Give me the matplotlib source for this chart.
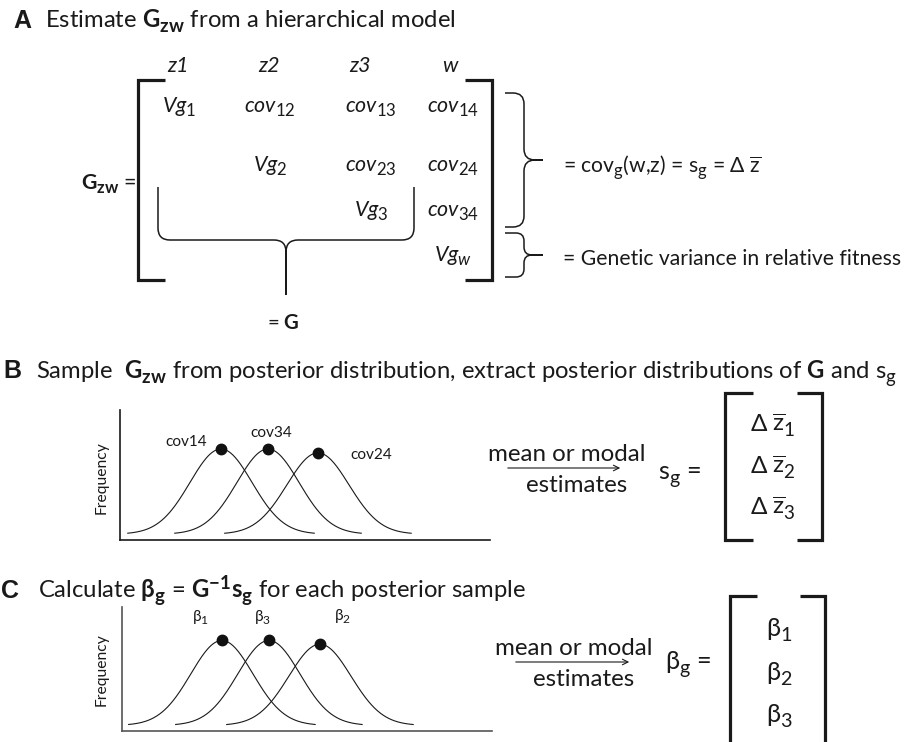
import numpy as np
import matplotlib
matplotlib.use("Agg")
import matplotlib.pyplot as plt
import matplotlib._mathtext as _mt
from matplotlib.path import Path
from matplotlib.patches import PathPatch, FancyArrowPatch

# larger, lower subscripts (closer to the reference typesetting)
_mt.SHRINK_FACTOR = 0.78
_mt.FontConstantsBase.sub1 = 0.42
_mt.FontConstantsBase.sub2 = 0.55

FONT = "Lato"
plt.rcParams["font.family"] = [FONT, "DejaVu Sans"]
plt.rcParams["mathtext.fontset"] = "custom"
plt.rcParams["mathtext.rm"] = FONT
plt.rcParams["mathtext.it"] = FONT + ":italic"
plt.rcParams["mathtext.bf"] = FONT + ":bold"
plt.rcParams["mathtext.fallback"] = "stixsans"

# ---------------- data ----------------
col_headers = ["z1", "z2", "z3", "w"]
g_matrix = [
    [r"$\mathit{Vg}_{\mathit{1}}$", r"$\mathit{cov}_{\mathit{12}}$", r"$\mathit{cov}_{\mathit{13}}$", r"$\mathit{cov}_{\mathit{14}}$"],
    [None, r"$\mathit{Vg}_{\mathit{2}}$", r"$\mathit{cov}_{\mathit{23}}$", r"$\mathit{cov}_{\mathit{24}}$"],
    [None, None, r"$\mathit{Vg}_{\mathit{3}}$", r"$\mathit{cov}_{\mathit{34}}$"],
    [None, None, None, r"$\mathit{Vg}_{\mathit{w}}$"],
]
b_labels = ["cov14", "cov34", "cov24"]
b_means = [2.73, 4.00, 5.35]
b_peaks = [0.70, 0.70, 0.67]
c_labels = [r"β$_{1}$", r"β$_{3}$", r"β$_{2}$"]
c_means = [2.70, 3.97, 5.35]
c_peaks = [0.73, 0.73, 0.70]
curve_sd = 0.84
curve_base = 0.045
sg_entries = [r"Δ $\overline{\mathrm{z}}_{1}$", r"Δ $\overline{\mathrm{z}}_{2}$", r"Δ $\overline{\mathrm{z}}_{3}$"]
beta_entries = [r"β$_{1}$", r"β$_{2}$", r"β$_{3}$"]

# ---------------- figure ----------------
W, H = 907, 742
fig = plt.figure(figsize=(W / 100, H / 100), dpi=100)
ax = fig.add_axes([0, 0, 1, 1])
ax.set_xlim(0, W)
ax.set_ylim(H, 0)
ax.axis("off")
renderer = fig.canvas.get_renderer()
INK = "#1a1a1a"


def fit(t, target):
    w = t.get_window_extent(renderer).width
    t.set_fontsize(t.get_fontsize() * target / w)
    return t.get_fontsize()


def measure(s, target, **kw):
    t = ax.text(0, 0, s, fontsize=12, **kw)
    size = fit(t, target)
    t.remove()
    return size


def txt(x, y, s, size=12, ha="left", va="baseline", width=None, **kw):
    t = ax.text(x, y, s, fontsize=size, ha=ha, va=va, color=INK, **kw)
    if width is not None:
        fit(t, width)
    return t


def poly(pts, lw=2.3, color=INK):
    xs, ys = zip(*pts)
    ax.plot(xs, ys, color=color, lw=lw, solid_joinstyle="miter", solid_capstyle="butt")


def brace(s0, s1, base, e, t, r, orient, lw=1.1):
    sm = (s0 + s1) / 2
    loc = [(s0, -e), (s0, -r), (s0, 0), (s0 + r, 0), (sm - r, 0), (sm, 0), (sm, r),
           (sm, t), (sm, r), (sm, 0), (sm + r, 0), (s1 - r, 0), (s1, 0), (s1, -r), (s1, -e)]
    codes = [Path.MOVETO, Path.LINETO, Path.CURVE3, Path.CURVE3, Path.LINETO, Path.CURVE3, Path.CURVE3,
             Path.LINETO, Path.LINETO, Path.CURVE3, Path.CURVE3, Path.LINETO, Path.CURVE3, Path.CURVE3, Path.LINETO]
    if orient == "right":
        verts = [(base + v, u) for u, v in loc]
    else:
        verts = [(u, base + v) for u, v in loc]
    ax.add_patch(PathPatch(Path(verts, codes), fill=False, lw=lw, color=INK, capstyle="butt"))


# ---------------- panel A ----------------
letter_size = measure("A", 18, fontweight="bold", family=["Liberation Sans"])
txt(13, 28, "A", size=letter_size, fontweight="bold", family=["Liberation Sans"])
title_size = fit(txt(45, 28, r"Estimate $\mathbf{G}_{\mathbf{zw}}$ from a hierarchical model"), 410)

col_x = [179, 270, 371, 453]
head_x = [178, 269, 360, 450]
row_y = [112, 171, 216, 261]
ent_size = measure(r"$\mathit{cov}$", 29) * 1.17
for hx, h in zip(head_x, col_headers):
    txt(hx, 72, h, size=ent_size, ha="center", style="italic")
for i, row in enumerate(g_matrix):
    for j, e in enumerate(row):
        if e is not None:
            txt(col_x[j], row_y[i], e, size=ent_size, ha="center")

poly([(165, 80), (138, 80), (138, 280), (165, 280)])
poly([(465, 80), (492, 80), (492, 280), (465, 280)])
txt(81, 189, r"$\mathbf{G}_{\mathbf{zw}}$ =", width=56)
txt(267, 329, r"= $\mathbf{G}$", width=33)

brace(93, 227, 524, 19, 19, 11, "right")
brace(233, 277, 524, 19, 19, 8, "right")
brace(158, 414, 240, 53, 55, 12, "down")

side_size = fit(txt(563, 265, "= Genetic variance in relative fitness"), 337)
txt(563, 172, r"= cov$_{\mathrm{g}}$(w,z) = s$_{\mathrm{g}}$ = Δ $\overline{\mathrm{z}}$", size=side_size)

# ---------------- panel B ----------------
txt(3, 378, "B", size=letter_size, fontweight="bold", family=["Liberation Sans"])
txt(36, 378, r"Sample  $\mathbf{G}_{\mathbf{zw}}$ from posterior distribution, extract posterior distributions of $\mathbf{G}$ and s$_{\mathrm{g}}$", size=title_size)

# ---------------- panel C ----------------
txt(1, 598, "C", size=letter_size, fontweight="bold", family=["Liberation Sans"])
txt(38, 598, r"Calculate $\mathbf{β}_{\mathbf{g}}$ = $\mathbf{G}^{\mathbf{-1}}\mathbf{s}_{\mathbf{g}}$ for each posterior sample", size=title_size)


def dist_panel(left, bottom, top, right, means, peaks, labels, offsets, spine_color, lab_size):
    a = fig.add_axes([left / W, (H - bottom) / H, (right - left) / W, (bottom - top) / H])
    a.set_xlim(0, (right - left) / 37.0)
    a.set_ylim(0, 1)
    for s in ["top", "right"]:
        a.spines[s].set_visible(False)
    for s in ["left", "bottom"]:
        a.spines[s].set_color(spine_color)
        a.spines[s].set_linewidth(1.2)
    a.set_xticks([])
    a.set_yticks([])
    a.patch.set_alpha(0)
    for m, p, lab, off in zip(means, peaks, labels, offsets):
        xs = np.linspace(m - 3 * curve_sd, m + 3 * curve_sd, 200)
        ys = curve_base + (p - curve_base) * np.exp(-0.5 * ((xs - m) / curve_sd) ** 2)
        a.plot(xs, ys, color=INK, lw=0.8)
        a.plot([m], [p], "o", color="#111111", ms=7.5)
        a.annotate(lab, (m, p), xytext=off, textcoords="offset pixels", ha="center", va="center",
                   fontsize=lab_size, color=INK)
    return a


lab_size = measure("cov14", 42)
dist_panel(120, 540, 410, 490, b_means, b_peaks, b_labels, [(-35, 7), (3, 16), (53, -2)], INK, lab_size)
dist_panel(122, 731, 607, 492, c_means, c_peaks, c_labels, [(-21, 23), (-6, 23), (23, 27)], "#555555", lab_size)

freq_size = measure("Frequency", 73)
txt(102, 478, "Frequency", size=freq_size, ha="center", va="center", rotation=90)
txt(102, 670, "Frequency", size=freq_size, ha="center", va="center", rotation=90)

# right side of B and C
mm_size = measure("mean or modal", 157)
for (xl, yb, ay, a0, a1) in [(488, 461, 468, 505, 623), (495, 655, 662, 513, 632)]:
    txt(xl, yb, "mean or modal", size=mm_size)
    txt(xl + 89, yb + 31, "estimates", size=mm_size, ha="center")
    ax.add_patch(FancyArrowPatch((a0, ay), (a1, ay), arrowstyle="->", mutation_scale=10, lw=0.8, color=INK))

vec_size = mm_size * 1.05
txt(658, 480, r"s$_{\mathrm{g}}$ =", size=vec_size)
txt(665, 670, r"β$_{\mathrm{g}}$ =", size=vec_size)

poly([(753, 393), (725, 393), (725, 540), (753, 540)])
poly([(797, 393), (822, 393), (822, 540), (797, 540)])
for e, yb in zip(sg_entries, [432, 474, 515]):
    txt(750, yb, e, size=vec_size * 0.96)

poly([(757, 596), (730, 596), (730, 760)])
poly([(800, 596), (825, 596), (825, 760)])
for e, yb in zip(beta_entries, [637, 681, 723]):
    txt(766, yb, e, size=vec_size)

fig.savefig("out.png", dpi=100)
